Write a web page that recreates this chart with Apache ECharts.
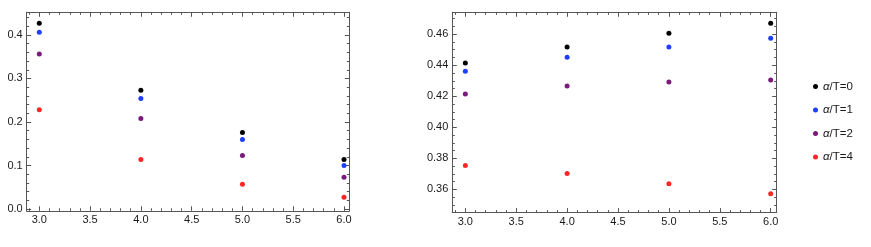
<!DOCTYPE html>
<html>
<head>
<meta charset="utf-8">
<script src="https://cdn.jsdelivr.net/npm/echarts@6/dist/echarts.min.js"></script>
<style>
  html, body { margin: 0; padding: 0; background: #ffffff; }
  #chart { width: 871px; height: 247px; }
</style>
</head>
<body>
<div id="chart"></div>
<script>
// ---- data ----
const xValues = [3, 4, 5, 6];
const seriesNames = ['α/T=0', 'α/T=1', 'α/T=2', 'α/T=4'];
const seriesColors = ['#000000', '#1f3fff', '#7a1a7a', '#ff2626'];

// left panel
const left_T0 = [0.427, 0.273, 0.176, 0.114];
const left_T1 = [0.406, 0.254, 0.160, 0.100];
const left_T2 = [0.356, 0.208, 0.123, 0.073];
const left_T4 = [0.228, 0.114, 0.057, 0.027];
// right panel
const right_T0 = [0.4414, 0.4517, 0.4606, 0.4671];
const right_T1 = [0.4362, 0.4452, 0.4517, 0.4574];
const right_T2 = [0.4215, 0.4266, 0.4292, 0.4305];
const right_T4 = [0.3754, 0.3703, 0.3637, 0.3572];

// ticks
const xMajorTicks = [3.0, 3.5, 4.0, 4.5, 5.0, 5.5, 6.0];
const xMinorTicks = [2.9, 3.1, 3.2, 3.3, 3.4, 3.6, 3.7, 3.8, 3.9, 4.1, 4.2, 4.3, 4.4, 4.6, 4.7, 4.8, 4.9, 5.1, 5.2, 5.3, 5.4, 5.6, 5.7, 5.8, 5.9];
const leftYMajorTicks = [0.0, 0.1, 0.2, 0.3, 0.4];
const leftYMinorTicks = [0.02, 0.04, 0.06, 0.08, 0.12, 0.14, 0.16, 0.18, 0.22, 0.24, 0.26, 0.28, 0.32, 0.34, 0.36, 0.38, 0.42, 0.44];
const rightYMajorTicks = [0.36, 0.38, 0.40, 0.42, 0.44, 0.46];
const rightYMinorTicks = [0.35, 0.355, 0.365, 0.37, 0.375, 0.385, 0.39, 0.395, 0.405, 0.41, 0.415, 0.425, 0.43, 0.435, 0.445, 0.45, 0.455, 0.465, 0.47];

// ---- layout ----
const panels = [
  { grid: { left: 26.7, top: 12.3, width: 322.6, height: 198.5 },
    xRange: [2.876, 6.052], yRange: [-0.004, 0.452],
    yMajor: leftYMajorTicks, yMinor: leftYMinorTicks, yDigits: 1,
    data: [left_T0, left_T1, left_T2, left_T4] },
  { grid: { left: 452.3, top: 12.3, width: 324.4, height: 200.3 },
    xRange: [2.872, 6.059], yRange: [0.3451, 0.4741],
    yMajor: rightYMajorTicks, yMinor: rightYMinorTicks, yDigits: 2,
    data: [right_T0, right_T1, right_T2, right_T4] }
];

const frameColor = '#555555';
const labelColor = '#1a1a1a';
const FONT = 'Liberation Sans, Arial, sans-serif';

const grids = [], xAxes = [], yAxes = [], series = [];

panels.forEach((p, gi) => {
  grids.push(Object.assign({ containLabel: false }, p.grid));
  const mkAxis = (dir, position, ticks, isMajor, withLabels, range, digits) => ({
    type: 'value', gridIndex: gi, position: position,
    min: range[0], max: range[1],
    splitLine: { show: false },
    axisLine: { show: isMajor, onZero: false, lineStyle: { color: frameColor, width: 1 } },
    axisTick: { show: true, inside: true, length: isMajor ? 4.5 : 2.5,
                customValues: ticks, lineStyle: { color: frameColor, width: 1 } },
    axisLabel: { show: withLabels, customValues: ticks, color: labelColor,
                 fontFamily: FONT, fontSize: 11, margin: 4,
                 formatter: v => Number(v).toFixed(digits) },
    axisPointer: { show: false }
  });
  const xBase = xAxes.length;
  xAxes.push(mkAxis('x', 'bottom', xMajorTicks, true, true, p.xRange, 1));
  xAxes.push(mkAxis('x', 'bottom', xMinorTicks, false, false, p.xRange, 1));
  xAxes.push(mkAxis('x', 'top', xMajorTicks, true, false, p.xRange, 1));
  xAxes.push(mkAxis('x', 'top', xMinorTicks, false, false, p.xRange, 1));
  const yBase = yAxes.length;
  yAxes.push(mkAxis('y', 'left', p.yMajor, true, true, p.yRange, p.yDigits));
  yAxes.push(mkAxis('y', 'left', p.yMinor, false, false, p.yRange, p.yDigits));
  yAxes.push(mkAxis('y', 'right', p.yMajor, true, false, p.yRange, p.yDigits));
  yAxes.push(mkAxis('y', 'right', p.yMinor, false, false, p.yRange, p.yDigits));

  p.data.forEach((vals, si) => {
    series.push({
      type: 'scatter', name: seriesNames[si],
      xAxisIndex: xBase, yAxisIndex: yBase,
      symbol: 'circle', symbolSize: 5,
      itemStyle: { color: seriesColors[si], opacity: 1 },
      data: xValues.map((x, i) => [x, vals[i]]),
      silent: true, animation: false
    });
  });
});

const chart = echarts.init(document.getElementById('chart'), null, { renderer: 'canvas' });
chart.setOption({
  animation: false,
  backgroundColor: '#ffffff',
  textStyle: { fontFamily: FONT },
  grid: grids,
  xAxis: xAxes,
  yAxis: yAxes,
  legend: {
    data: seriesNames.map((n, i) => ({ name: n, itemStyle: { color: seriesColors[i] } })),
    orient: 'vertical', left: 808, top: 74.5,
    itemWidth: 5, itemHeight: 5, itemGap: 9.5,
    icon: 'circle',
    selectedMode: false,
    textStyle: { fontFamily: FONT, fontSize: 11.5, color: labelColor, lineHeight: 14,
                 rich: { i: { fontStyle: 'italic', fontFamily: FONT, fontSize: 11.5, color: labelColor, lineHeight: 14 } } },
    formatter: name => '{i|α}' + name.slice(1)
  },
  series: series
});
</script>
</body>
</html>
